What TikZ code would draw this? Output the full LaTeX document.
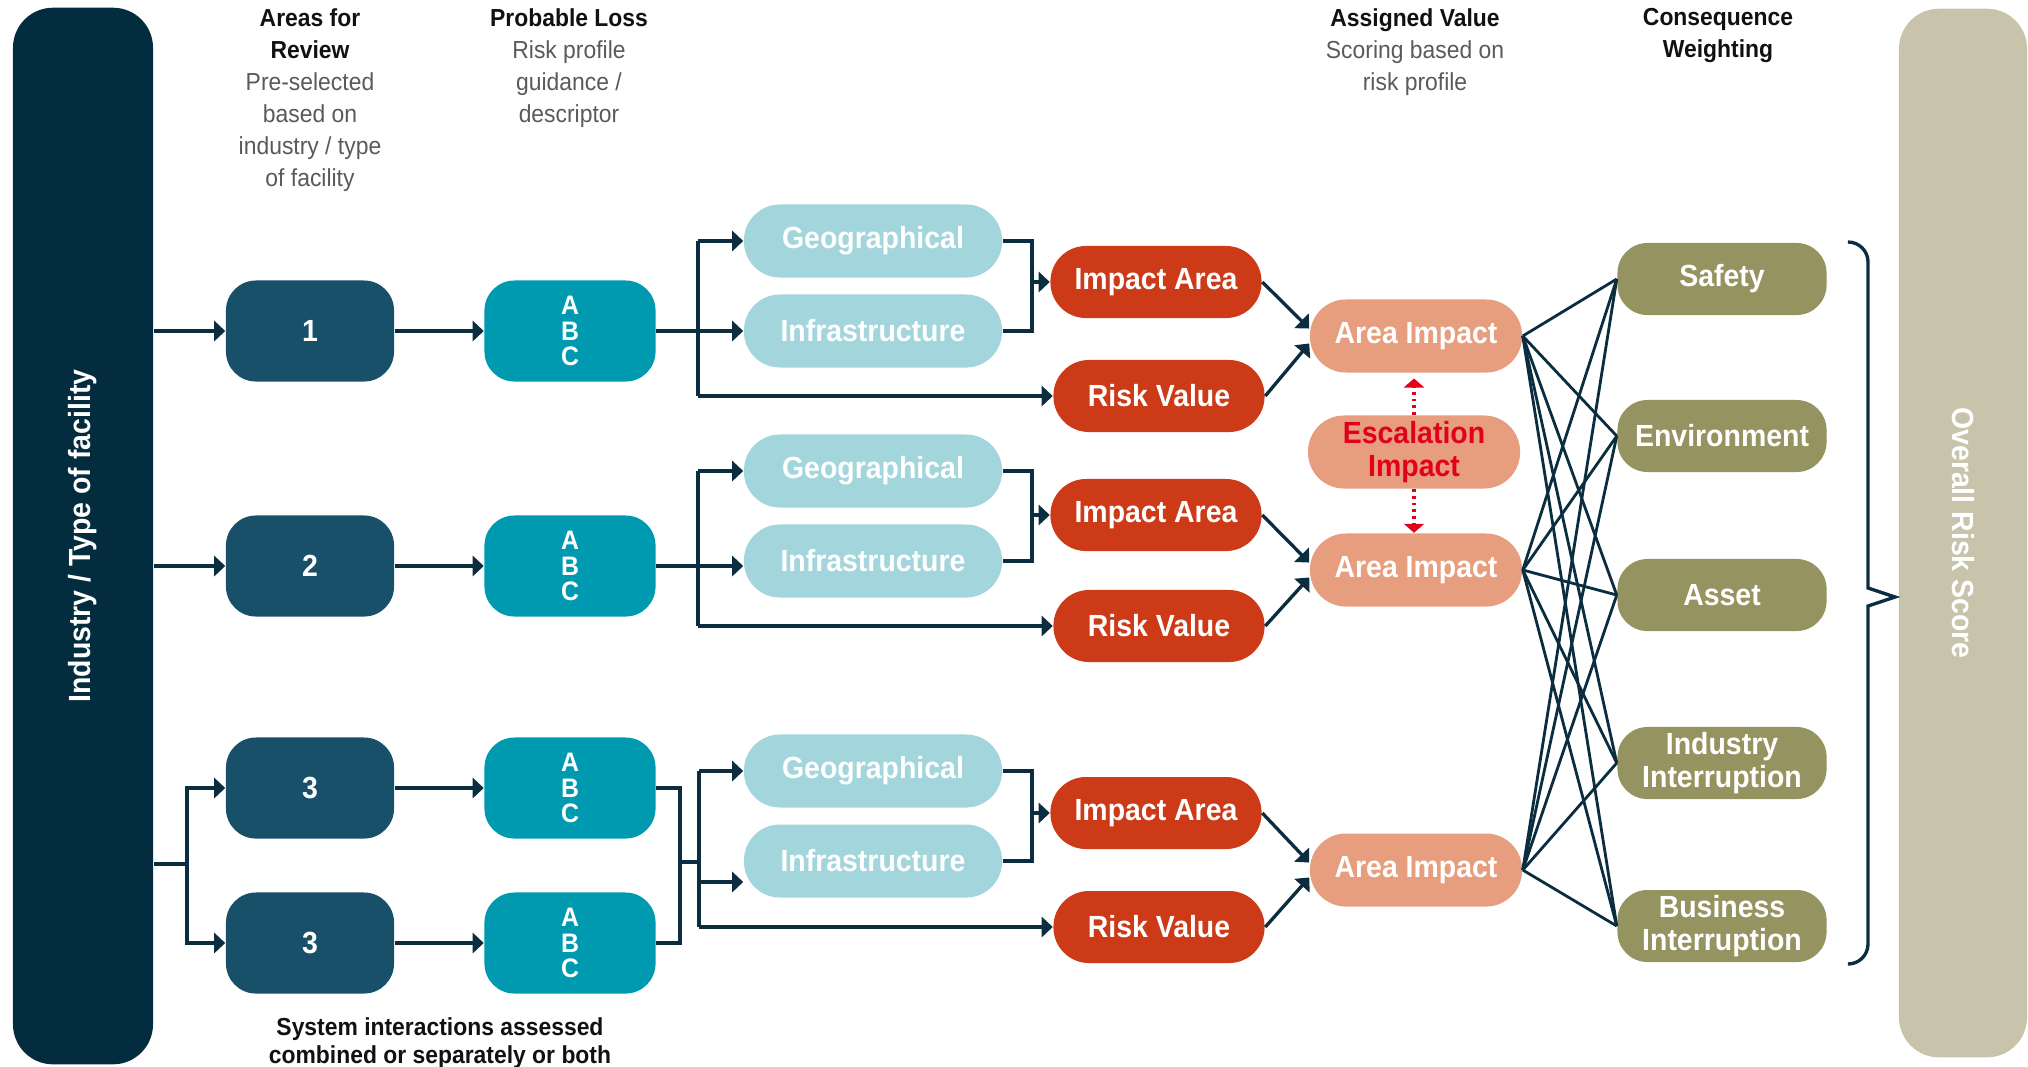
\documentclass[tikz,border=0pt]{standalone}
\usepackage{xcolor}
\usepackage{fontspec}
\setmainfont{Liberation Sans}
\newfontfamily\cnfont{Liberation Sans}[FakeStretch=0.93]
\usepackage{tikz}
\usetikzlibrary{arrows.meta}

\definecolor{barnavy}{HTML}{042C3F}
\definecolor{areablue}{HTML}{18506A}
\definecolor{losscyan}{HTML}{009AB0}
\definecolor{riskpale}{HTML}{A3D5DC}
\definecolor{impactred}{HTML}{CC3A17}
\definecolor{valuesalmon}{HTML}{E69E7F}
\definecolor{weightolive}{HTML}{95935F}
\definecolor{scorebeige}{HTML}{C8C3AB}
\definecolor{linenavy}{HTML}{0B2D40}
\definecolor{escred}{HTML}{E2001A}
\definecolor{titleink}{HTML}{111111}
\definecolor{descgray}{HTML}{5A5A5A}

\newcommand{\colhead}[1]{\textcolor{titleink}{\bfseries #1}}

\begin{document}
\begin{tikzpicture}[x=0.01cm, y=-0.01cm]
      \tikzstyle{box}=[rectangle, inner sep=0pt, align=center, text=white, font=\cnfont\bfseries\fontsize{8.7}{9.3}\selectfont]
      \tikzstyle{sidebar}=[box, rounded corners=0.4cm]
      \tikzstyle{areabox}=[box, fill=areablue, minimum width=1.68cm, minimum height=1.01cm, rounded corners=0.3cm]
      \tikzstyle{lossbox}=[box, fill=losscyan, minimum width=1.71cm, minimum height=1.01cm, rounded corners=0.3cm, font=\cnfont\bfseries\fontsize{7.6}{7.2}\selectfont]
      \tikzstyle{riskbox}=[box, fill=riskpale, minimum width=2.58cm, minimum height=0.73cm, rounded corners=0.36cm]
      \tikzstyle{impactbox}=[box, fill=impactred, minimum width=2.11cm, minimum height=0.72cm, rounded corners=0.355cm]
      \tikzstyle{valuebox}=[box, fill=valuesalmon, minimum width=2.12cm, minimum height=0.73cm, rounded corners=0.36cm]
      \tikzstyle{weightbox}=[box, fill=weightolive, minimum width=2.09cm, minimum height=0.72cm, rounded corners=0.3cm]
      \tikzstyle{header}=[anchor=north, inner sep=0pt, align=center, text=descgray, font=\cnfont\fontsize{7}{9.1}\selectfont]
      \tikzstyle{note}=[anchor=north, inner sep=0pt, align=center, text=titleink, font=\cnfont\bfseries\fontsize{7}{8}\selectfont]
      \tikzstyle{link}=[draw=linenavy, line width=0.95pt]
      \tikzstyle{flow}=[link, -{Triangle[length=0.11cm, width=0.2cm]}]
      \tikzstyle{fanline}=[draw=linenavy, line width=0.8pt]
      \tikzstyle{escalate}=[draw=escred, line width=0.9pt, dash pattern=on 0.8pt off 1.1pt, -{Triangle[length=0.09cm, width=0.2cm]}]

      \useasboundingbox (0,0) rectangle (2028,1066);

      \node[sidebar, fill=barnavy, rotate=90, minimum width=10.56cm, minimum height=1.40cm] (ind) at (83,536) {Industry / Type of facility};
      \node[sidebar, fill=scorebeige, rotate=-90, minimum width=10.48cm, minimum height=1.28cm] (ors) at (1963,533) {Overall Risk Score};

      \node[header] (h1) at (310,8) {\colhead{Areas for}\\\colhead{Review}\\Pre-selected\\based on\\industry / type\\of facility};
      \node[header] (h2) at (569,8) {\colhead{Probable Loss}\\Risk profile\\guidance /\\descriptor};
      \node[header] (h3) at (1415,8) {\colhead{Assigned Value}\\Scoring based on\\risk profile};
      \node[header] (h4) at (1718,8) {\colhead{Consequence}\\\colhead{Weighting}};

      \node[areabox] (a1) at (310,331) {1};
      \node[areabox] (a2) at (310,566) {2};
      \node[areabox] (a3) at (310,788) {3};
      \node[areabox] (a4) at (310,943) {3};

      \node[lossbox] (l1) at (570,331) {A\\B\\C};
      \node[lossbox] (l2) at (570,566) {A\\B\\C};
      \node[lossbox] (l3) at (570,788) {A\\B\\C};
      \node[lossbox] (l4) at (570,943) {A\\B\\C};

      \node[note] (sys) at (440,1017) {System interactions assessed\\combined or separately or both};

      \node[riskbox] (g1) at (873,241) {Geographical};
      \node[riskbox] (i1) at (873,331) {Infrastructure};
      \node[riskbox] (g2) at (873,471) {Geographical};
      \node[riskbox] (i2) at (873,561) {Infrastructure};
      \node[riskbox] (g3) at (873,771) {Geographical};
      \node[riskbox] (i3) at (873,861) {Infrastructure};

      \node[impactbox] (ia1) at (1156,282) {Impact Area};
      \node[impactbox] (rv1) at (1159,396) {Risk Value};
      \node[impactbox] (ia2) at (1156,515) {Impact Area};
      \node[impactbox] (rv2) at (1159,626) {Risk Value};
      \node[impactbox] (ia3) at (1156,813) {Impact Area};
      \node[impactbox] (rv3) at (1159,927) {Risk Value};

      \node[valuebox] (ai1) at (1416,336) {Area Impact};
      \node[valuebox, text=escred] (esc) at (1414,452) {Escalation\\Impact};
      \node[valuebox] (ai2) at (1416,570) {Area Impact};
      \node[valuebox] (ai3) at (1416,870) {Area Impact};

      \node[weightbox] (safety) at (1722,279) {Safety};
      \node[weightbox] (env) at (1722,436) {Environment};
      \node[weightbox] (asset) at (1722,595) {Asset};
      \node[weightbox] (indint) at (1722,763) {Industry\\Interruption};
      \node[weightbox] (busint) at (1722,926) {Business\\Interruption};

      \coordinate (f3) at (187,864);
      \draw[flow] (a1 -| ind.south) -- (a1);
      \draw[flow] (a2 -| ind.south) -- (a2);
      \draw[link] (f3 -| ind.south) -- (f3);
      \draw[flow] (f3) |- (a3);
      \draw[flow] (f3) |- (a4);

      \draw[flow] (a1) -- (l1);
      \draw[flow] (a2) -- (l2);
      \draw[flow] (a3) -- (l3);
      \draw[flow] (a4) -- (l4);

      \coordinate (s1) at (698,241);
      \coordinate (t1) at (698,396);
      \coordinate (m1) at (1032,282);
      \draw[link] (s1) -- (t1);
      \draw[flow] (s1) -- (g1);
      \draw[flow] (l1) -- (i1);
      \draw[flow] (t1) -- (rv1);
      \draw[link] (g1.east) -| (m1) |- (i1.east);
      \draw[flow] (m1) -- (ia1);

      \coordinate (s2) at (698,471);
      \coordinate (t2) at (698,626);
      \coordinate (m2) at (1032,515);
      \draw[link] (s2) -- (t2);
      \draw[flow] (s2) -- (g2);
      \draw[flow] (l2) -- (l2 -| i2.west);
      \draw[flow] (t2) -- (rv2);
      \draw[link] (g2.east) -| (m2) |- (i2.east);
      \draw[flow] (m2) -- (ia2);

      \coordinate (j3) at (680,862);
      \coordinate (s3) at (699,771);
      \coordinate (k3) at (699,882);
      \coordinate (t3) at (699,927);
      \coordinate (m3) at (1032,813);
      \draw[link] (l3.east) -| (j3) |- (l4.east);
      \draw[link] (j3) -- (j3 -| s3);
      \draw[link] (s3) -- (t3);
      \draw[flow] (s3) -- (g3);
      \draw[flow] (k3) -- (k3 -| i3.west);
      \draw[flow] (t3) -- (rv3);
      \draw[link] (g3.east) -| (m3) |- (i3.east);
      \draw[flow] (m3) -- (ia3);

      \draw[flow] (ia1.east) -- (ai1.176);
      \draw[flow] (rv1.east) -- (ai1.184);
      \draw[flow] (ia2.east) -- (ai2.176);
      \draw[flow] (rv2.east) -- (ai2.184);
      \draw[flow] (ia3.east) -- (ai3.176);
      \draw[flow] (rv3.east) -- (ai3.184);

      \draw[escalate, shorten >=1.5pt] (esc.north) -- (esc.north |- ai1.south);
      \draw[escalate] (esc.south) -- (esc.south |- ai2.north);

      \foreach \v in {ai1,ai2,ai3}
        \foreach \c in {safety,env,asset,indint,busint}
          \draw[fanline] (\v.east) -- (\c.west);

      \draw[link] (1848,242) [rounded corners=0.2cm] -| (1868,400) [sharp corners] -- (1868,588) -- (1895,597) -- (1868,606) -- (1868,900) [rounded corners=0.2cm] |- (1848,964);
    \end{tikzpicture}
\end{document}
